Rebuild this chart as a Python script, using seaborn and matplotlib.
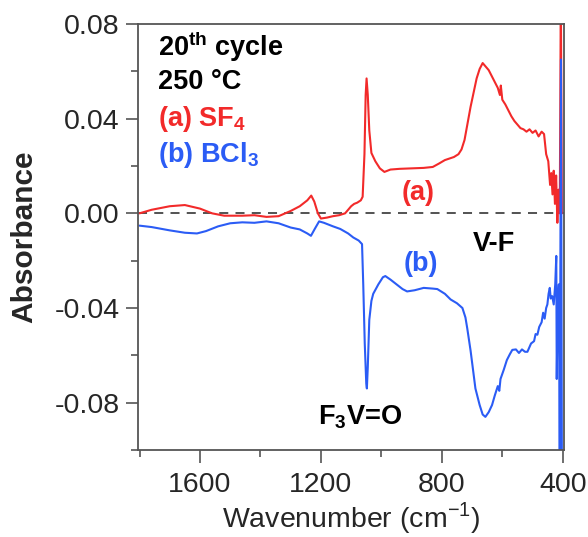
import numpy as np
import pandas as pd
import matplotlib
matplotlib.use("Agg")
import matplotlib.pyplot as plt
import seaborn as sns

# Series (a) SF4 : wavenumber (cm-1), absorbance
wn_a = [1800, 1760, 1700, 1650, 1600, 1560, 1520, 1460, 1420, 1380, 1340, 1300, 1270,
        1245, 1232, 1222, 1210, 1200, 1180, 1160, 1140, 1120, 1110, 1100, 1090, 1080,
        1068, 1062, 1056, 1052, 1049, 1045, 1040, 1033, 1020, 1005, 990, 970, 940, 900,
        860, 830, 810, 790, 760, 745, 735, 725, 715, 705, 695, 685, 675, 665, 655, 645,
        635, 625, 615, 608, 605, 600, 590, 580, 570, 560, 550, 540, 530, 520, 510, 500,
        490, 480, 470, 462, 455, 448, 442, 438, 434, 430, 426, 422, 418, 414, 410, 406.5, 403]
abs_a = [0.000, 0.0015, 0.003, 0.0035, 0.002, 0.000, -0.001, -0.001, -0.0008, -0.0015,
         -0.0012, 0.001, 0.003, 0.0055, 0.0075, 0.005, 0.000, -0.0022, -0.0018, -0.0012,
         -0.0008, 0.000, 0.0015, 0.003, 0.004, 0.0045, 0.0055, 0.007, 0.025, 0.05, 0.057,
         0.05, 0.035, 0.0255, 0.022, 0.019, 0.0175, 0.0185, 0.0188, 0.019, 0.0192, 0.0196,
         0.021, 0.0225, 0.0238, 0.025, 0.027, 0.031, 0.038, 0.045, 0.051, 0.057, 0.061,
         0.0635, 0.062, 0.0605, 0.058, 0.0555, 0.053, 0.050, 0.054, 0.048, 0.046, 0.0435,
         0.041, 0.039, 0.0375, 0.036, 0.0355, 0.0345, 0.0355, 0.034, 0.035, 0.0325, 0.0345,
         0.0335, 0.025, 0.022, 0.012, 0.017, 0.008, 0.018, 0.004, 0.016, -0.004, 0.010,
         0.000, 0.095, 0.000]

# Series (b) BCl3
wn_b = [1800, 1760, 1700, 1650, 1610, 1580, 1540, 1500, 1460, 1420, 1380, 1340, 1300,
        1270, 1245, 1233, 1220, 1206, 1190, 1160, 1136, 1110, 1093, 1075, 1064, 1060,
        1055, 1050, 1048, 1045, 1040, 1033, 1027, 1010, 995, 987, 970, 950, 930, 915,
        890, 860, 830, 815, 790, 771, 750, 732, 722, 716, 705, 695, 689, 675, 665, 656,
        645, 634, 625, 615, 610, 606, 595, 585, 575, 567, 555, 545, 535, 525, 517, 505,
        495, 490, 484, 478, 470, 465, 460, 455, 451, 447, 443, 440, 435, 430, 425, 421.5,
        420, 417, 413, 410, 406, 403]
abs_b = [-0.0052, -0.0058, -0.0072, -0.0082, -0.0085, -0.0075, -0.0055, -0.0042, -0.0038,
         -0.0040, -0.0034, -0.0042, -0.0060, -0.0068, -0.0085, -0.0095, -0.0065, -0.0034,
         -0.0040, -0.0055, -0.0066, -0.0085, -0.0102, -0.0115, -0.013, -0.030, -0.055,
         -0.072, -0.074, -0.065, -0.045, -0.037, -0.034, -0.030, -0.027, -0.0265, -0.028,
         -0.030, -0.032, -0.033, -0.0325, -0.0315, -0.0318, -0.032, -0.034, -0.0364,
         -0.038, -0.040, -0.044, -0.0486, -0.058, -0.068, -0.074, -0.081, -0.085, -0.086,
         -0.084, -0.081, -0.077, -0.073, -0.075, -0.070, -0.066, -0.062, -0.0595, -0.0577,
         -0.0575, -0.059, -0.0575, -0.0585, -0.0585, -0.055, -0.054, -0.051, -0.0513,
         -0.048, -0.046, -0.042, -0.0445, -0.040, -0.0385, -0.034, -0.0315, -0.036, -0.035,
         -0.0385, -0.030, -0.018, -0.070, -0.040, -0.030, -0.110, 0.065, -0.110]

x_ticks = [1600, 1200, 800, 400]
y_ticks = [-0.08, -0.04, 0.00, 0.04, 0.08]
y_tick_labels = ["-0.08", "-0.04", "0.00", "0.04", "0.08"]

RED = "#f22a2a"
BLUE = "#2b5cf5"

sns.set_style("ticks")
plt.rcParams["font.family"] = ["Liberation Sans", "DejaVu Sans"]
plt.rcParams["mathtext.fontset"] = "custom"
plt.rcParams["mathtext.rm"] = "Liberation Sans"
plt.rcParams["mathtext.bf"] = "Liberation Sans:bold"

fig = plt.figure(figsize=(5.88, 5.37), dpi=100)
ax = fig.add_axes([138 / 588, 87 / 537, (564 - 138) / 588, (450 - 24) / 537])

df_a = pd.DataFrame({"wn": wn_a, "A": abs_a})
df_b = pd.DataFrame({"wn": wn_b, "A": abs_b})
sns.lineplot(data=df_a, x="wn", y="A", ax=ax, color=RED, lw=1.5, sort=False, estimator=None)
sns.lineplot(data=df_b, x="wn", y="A", ax=ax, color=BLUE, lw=1.5, sort=False, estimator=None)
ax.axhline(0, color="#444444", lw=1.3, ls=(0, (5, 4)), zorder=0)

ax.set_xlim(1805, 396)
ax.set_ylim(-0.1, 0.08)
ax.set_xticks(x_ticks)
ax.set_xticks([1800, 1400, 1000, 600], minor=True)
ax.set_yticks(y_ticks)
ax.set_yticklabels(y_tick_labels)
ax.set_yticks([-0.10, -0.06, -0.02, 0.02, 0.06], minor=True)
ax.tick_params(axis="both", which="major", length=9, width=1.2, labelsize=20.5,
               color="#555555", direction="out")
ax.tick_params(axis="y", which="major", pad=4)
ax.tick_params(axis="x", which="major", pad=7)
ax.tick_params(axis="both", which="minor", length=5, width=1.2, color="#555555", direction="out")
for sp in ax.spines.values():
    sp.set_visible(True)
    sp.set_color("#555555")
    sp.set_linewidth(1.3)

ax.set_xlabel("Wavenumber (cm$^{-1}$)", fontsize=20.5, labelpad=1)
ax.set_ylabel("Absorbance", fontsize=21.5, fontweight="bold", labelpad=12)

tk = dict(transform=ax.transAxes, fontsize=19.5, fontweight="bold", ha="left", va="baseline")
ax.text(0.047, 0.925, r"20$^{\mathbf{th}}$ cycle", color="black", **tk)
ax.text(0.047, 0.847, "250 °C", color="black", **tk)
ax.text(0.047, 0.761, r"(a) SF$_{\mathbf{4}}$", color=RED, **tk)
ax.text(0.047, 0.676, r"(b) BCl$_{\mathbf{3}}$", color=BLUE, **tk)

ax.text(878, 0.0088, "(a)", color=RED, fontsize=19.5, fontweight="bold",
        ha="center", va="center")
ax.text(871, -0.0214, "(b)", color=BLUE, fontsize=19.5, fontweight="bold",
        ha="center", va="center")
ax.text(629, -0.0129, "V-F", color="black", fontsize=19.5, fontweight="bold",
        ha="center", va="center")
ax.text(1070, -0.0860, r"F$_{\mathbf{3}}$V=O", color="black", fontsize=19.5, fontweight="bold",
        ha="center", va="center")

fig.savefig("out.png", dpi=100)
